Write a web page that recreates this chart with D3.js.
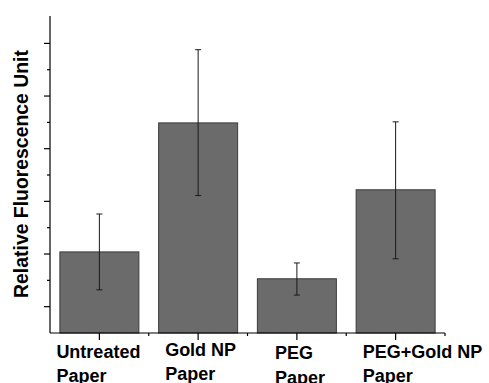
<!DOCTYPE html>
<html>
<head>
<meta charset="utf-8">
<script src="https://cdn.jsdelivr.net/npm/d3@7"></script>
<style>
  body { margin: 0; background: #fff; }
  svg { display: block; font-family: Arial, "Liberation Sans", sans-serif; }
</style>
</head>
<body>
<div id="chart"></div>
<script>
const width = 489;
const height = 383;

// data (arbitrary units)
const categories = ["Untreated Paper", "Gold NP Paper", "PEG Paper", "PEG+Gold NP Paper"];
const labelLines = [["Untreated", "Paper"], ["Gold NP", "Paper"], ["PEG", "Paper"], ["PEG+Gold NP", "Paper"]];
const means = [1.54, 3.99, 1.03, 2.72];
const errLow = [0.82, 2.61, 0.72, 1.41];
const errHigh = [2.26, 5.38, 1.33, 4.01];
const majorTicks = [0.5, 1.5, 2.5, 3.5, 4.5, 5.5];
const minorTicks = [1, 2, 3, 4, 5];

const margin = { top: 16, right: 44, bottom: 50, left: 50 };

const svg = d3.select("#chart")
  .append("svg")
  .attr("width", width)
  .attr("height", height);

const x = d3.scaleBand()
  .domain(categories)
  .range([margin.left, width - margin.right])
  .paddingInner(0.2)
  .paddingOuter(0.1);

const y = d3.scaleLinear()
  .domain([0, 6.02])
  .range([height - margin.bottom, margin.top]);

const y0 = y(0);

// bars
svg.selectAll("rect.bar")
  .data(categories)
  .enter()
  .append("rect")
  .attr("class", "bar")
  .attr("x", d => x(d))
  .attr("width", x.bandwidth())
  .attr("y", (d, i) => y(means[i]))
  .attr("height", (d, i) => y0 - y(means[i]))
  .attr("fill", "#6b6b6b")
  .attr("stroke", "#3c3c3c")
  .attr("stroke-width", 1);

// error bars
const eb = svg.selectAll("g.err")
  .data(categories)
  .enter()
  .append("g")
  .attr("class", "err")
  .attr("stroke", "#1a1a1a")
  .attr("stroke-width", 1);

eb.append("line")
  .attr("x1", d => x(d) + x.bandwidth() / 2)
  .attr("x2", d => x(d) + x.bandwidth() / 2)
  .attr("y1", (d, i) => y(errLow[i]))
  .attr("y2", (d, i) => y(errHigh[i]));

[errLow, errHigh].forEach(arr => {
  eb.append("line")
    .attr("x1", d => x(d) + x.bandwidth() / 2 - 3)
    .attr("x2", d => x(d) + x.bandwidth() / 2 + 3)
    .attr("y1", (d, i) => y(arr[i]))
    .attr("y2", (d, i) => y(arr[i]));
});

// y axis
const yAxis = svg.append("g").attr("stroke", "#000").attr("stroke-width", 1.2);
yAxis.append("line")
  .attr("x1", margin.left).attr("x2", margin.left)
  .attr("y1", y(6.02)).attr("y2", y0);
yAxis.selectAll("line.maj")
  .data(majorTicks).enter().append("line")
  .attr("x1", margin.left - 6).attr("x2", margin.left)
  .attr("y1", d => y(d)).attr("y2", d => y(d));
yAxis.selectAll("line.min")
  .data(minorTicks).enter().append("line")
  .attr("x1", margin.left - 3).attr("x2", margin.left)
  .attr("y1", d => y(d)).attr("y2", d => y(d));

// x axis
const xAxis = svg.append("g").attr("stroke", "#000").attr("stroke-width", 1.2);
const xr = x.range();
xAxis.append("line")
  .attr("x1", xr[0]).attr("x2", xr[1])
  .attr("y1", y0).attr("y2", y0);
const edge = d3.range(1, categories.length + 1).map(i => xr[0] + (xr[1] - xr[0]) * i / categories.length);
xAxis.selectAll("line.c")
  .data(categories).enter().append("line")
  .attr("x1", d => x(d) + x.bandwidth() / 2)
  .attr("x2", d => x(d) + x.bandwidth() / 2)
  .attr("y1", y0).attr("y2", y0 + 7);
xAxis.selectAll("line.e")
  .data(edge).enter().append("line")
  .attr("x1", d => d).attr("x2", d => d)
  .attr("y1", y0).attr("y2", y0 + 3);

// category labels
const lblOffset = [-43, -33, -22, -33];
const lbl = svg.selectAll("text.cat")
  .data(categories)
  .enter()
  .append("text")
  .attr("class", "cat")
  .attr("font-size", "18px")
  .attr("font-weight", "bold")
  .attr("fill", "#000");
lbl.each(function(d, i) {
  const t = d3.select(this);
  labelLines[i].forEach((s, j) => {
    t.append("tspan")
      .attr("x", x(d) + x.bandwidth() / 2 + lblOffset[i])
      .attr("y", 358 + j * 24 + (i === 1 ? -2 : 0) + (i === 2 ? 1 + j * 1 : 0))
      .text(s);
  });
});

// y axis title
svg.append("text")
  .attr("transform", "translate(28,174) rotate(-90)")
  .attr("text-anchor", "middle")
  .attr("font-size", "19.4px")
  .attr("font-weight", "bold")
  .attr("fill", "#000")
  .text("Relative Fluorescence Unit");
</script>
</body>
</html>
